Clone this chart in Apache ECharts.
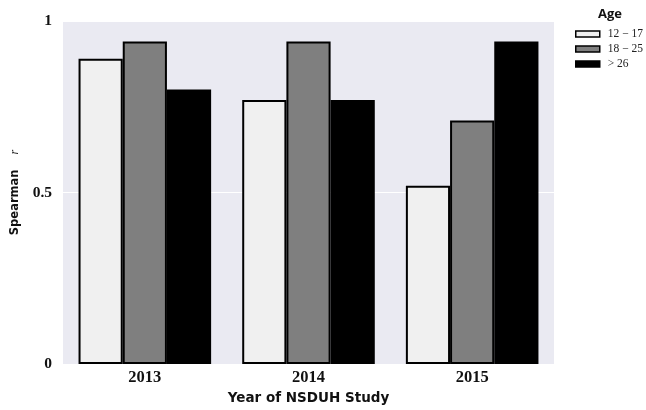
<!DOCTYPE html>
<html>
<head>
<meta charset="utf-8">
<script src="https://cdn.jsdelivr.net/npm/echarts@6/dist/echarts.min.js"></script>
<style>
  html, body { margin: 0; padding: 0; background: #fff; }
  #chart { width: 646px; height: 410px; }
</style>
</head>
<body>
<div id="chart"></div>
<script>
// Survey years on the x axis
const years = ['2013', '2014', '2015'];
// Age groups (legend labels)
const ageGroups = ['12 \u2212 17', '18 \u2212 25', '> 26'];
// Spearman correlation per age group, one value per year
const age12to17 = [0.89, 0.77, 0.52];
const age18to25 = [0.94, 0.94, 0.71];
const age26plus = [0.80, 0.77, 0.94];
// Tick values shown on the y axis
const yTicks = [0, 0.5, 1];

const fills = ['#f0f0f0', '#7f7f7f', '#000000'];
const seriesValues = [age12to17, age18to25, age26plus];
const serif = 'Liberation Serif';
const sans = 'DejaVu Sans';

const chart = echarts.init(document.getElementById('chart'), null, { renderer: 'canvas' });

chart.setOption({
  animation: false,
  backgroundColor: '#ffffff',
  grid: {
    left: 63, right: 92, top: 21, bottom: 43,
    show: true, backgroundColor: '#eaeaf2', borderWidth: 0
  },
  legend: {
    data: ageGroups,
    orient: 'vertical',
    left: 575, top: 28,
    padding: 0,
    itemWidth: 24, itemHeight: 6, itemGap: 3,
    icon: 'rect',
    textStyle: { fontFamily: serif, fontSize: 11.5, color: '#222', padding: [0, 0, 0, 3] },
    itemStyle: { borderColor: '#000', borderWidth: 1.5 }
  },
  graphic: [{
    type: 'text', left: 598, top: 8,
    style: { text: 'Age', fontFamily: 'Open Sans', fontWeight: 'bold', fontSize: 13, fill: '#111' }
  }],
  xAxis: {
    type: 'category',
    data: years,
    name: 'Year of NSDUH Study',
    nameLocation: 'middle',
    nameGap: 27,
    nameTextStyle: { fontFamily: sans, fontWeight: 'bold', fontSize: 13.5, color: '#111' },
    axisLine: { show: false },
    axisTick: { show: false },
    axisLabel: { fontFamily: serif, fontWeight: 'bold', fontSize: 16.5, color: '#111', margin: 5 },
    splitLine: { show: false }
  },
  yAxis: {
    type: 'value',
    min: 0, max: 1, interval: 0.5,
    name: '{b|Spearman}{s|}{i|r}',
    nameLocation: 'middle',
    nameGap: 42,
    nameTextStyle: {
      rich: {
        b: { fontFamily: sans, fontWeight: 'bold', fontSize: 11.5, color: '#111' },
        s: { width: 15 },
        i: { fontFamily: serif, fontStyle: 'italic', fontSize: 12, color: '#111' }
      }
    },
    axisLine: { show: false },
    axisTick: { show: false },
    axisLabel: {
      fontFamily: serif, fontWeight: 'bold', fontSize: 15.5, color: '#111', margin: 11,
      formatter: v => (yTicks.includes(v) ? String(v) : '')
    },
    splitLine: { show: true, lineStyle: { color: '#ffffff', width: 1 } }
  },
  series: ageGroups.map((name, i) => ({
    name: name,
    type: 'bar',
    data: seriesValues[i],
    barGap: '0%',
    barCategoryGap: '19%',
    itemStyle: { color: fills[i], borderColor: '#000', borderWidth: 2 }
  }))
});
</script>
</body>
</html>
